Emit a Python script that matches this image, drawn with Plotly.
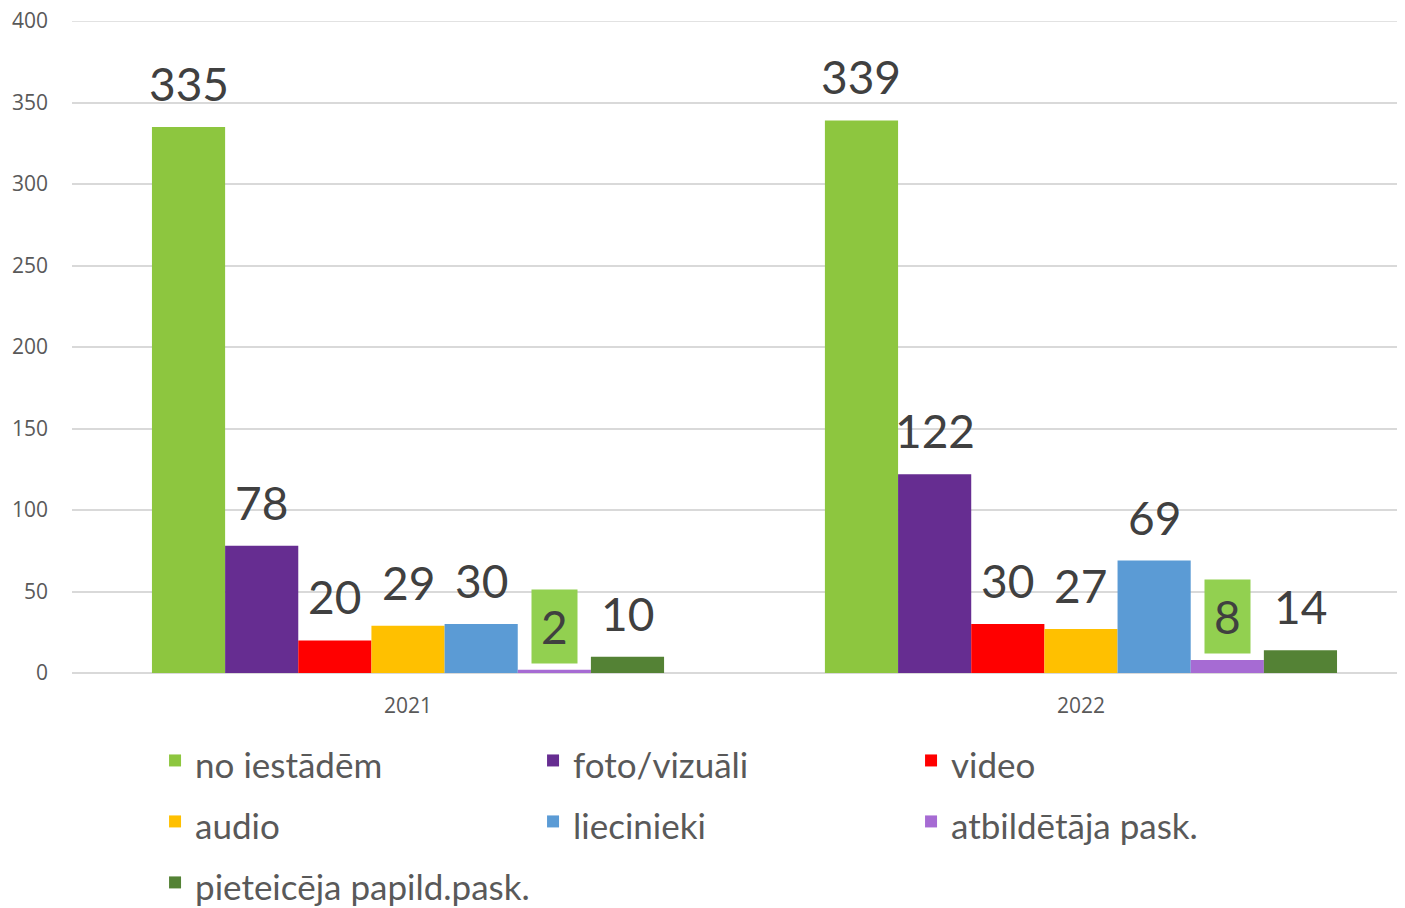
import plotly.graph_objects as go

categories = ["2021", "2022"]
series_names = ["no iestādēm", "foto/vizuāli", "video", "audio", "liecinieki",
                "atbildētāja pask.", "pieteicēja papild.pask."]
values = {
    "no iestādēm": [335, 339],
    "foto/vizuāli": [78, 122],
    "video": [20, 30],
    "audio": [29, 27],
    "liecinieki": [30, 69],
    "atbildētāja pask.": [2, 8],
    "pieteicēja papild.pask.": [10, 14],
}
colors = ["#8DC63F", "#662D91", "#FF0000", "#FFC000", "#5B9BD5", "#A66BD3", "#548235"]
boxed_series = "atbildētāja pask."
box_color = "#92D050"

# page body has an 8px margin: figure is sized to fill the rest of the window
W, H = 1397, 900
ML, MR, MT, MB = 64, 0, 13, 235
BARGAP = 0.239
x_range = [-0.4993, 1.4815]
y_range = [0, 400]

fig = go.Figure()
for name, col in zip(series_names, colors):
    fig.add_trace(go.Bar(
        name='<span style="font-size:35px">' + name + '</span>',
        x=categories, y=values[name],
        marker=dict(color=col, line=dict(width=0)),
    ))

# data labels
plot_w = W - ML - MR
px_per_unit = plot_w / (x_range[1] - x_range[0])
bar_px = px_per_unit * (1 - BARGAP) / len(series_names)
n = len(series_names)
for i, name in enumerate(series_names):
    shift = (i - (n - 1) / 2) * bar_px
    boxed = name == boxed_series
    for j, v in enumerate(values[name]):
        kw = dict(bgcolor=box_color, borderpad=9) if boxed else dict(borderpad=1)
        fig.add_annotation(
            x=j, y=v, xref="x", yref="y", text=str(v), showarrow=False,
            xanchor="center", yanchor="bottom", xshift=shift,
            yshift=6 if boxed else 14,
            font=dict(family="Lato", size=46, color="#404040"),
            **kw,
        )

# top gridline (plotly skips the grid line at the range edge)
fig.add_shape(type="line", xref="paper", yref="y", x0=0, x1=1, y0=y_range[1], y1=y_range[1],
              line=dict(color="#D9D9D9", width=1.5), layer="below")

fig.update_layout(
    width=W, height=H,
    margin=dict(l=ML, r=MR, t=MT, b=MB, autoexpand=False),
    plot_bgcolor="white", paper_bgcolor="white",
    barmode="group", bargap=BARGAP, bargroupgap=0,
    font=dict(family="Open Sans", color="#595959"),
    showlegend=True,
    legend=dict(
        orientation="h", x=0.0623, xanchor="left", y=-0.0797, yanchor="top",
        font=dict(family="Lato", size=44.6, color="#595959"),
        entrywidth=333, entrywidthmode="pixels",
        traceorder="normal",
    ),
    xaxis=dict(
        type="category", range=x_range, showgrid=False, showline=False,
        zeroline=False, ticks="", ticklabelstandoff=18,
        tickfont=dict(family="Open Sans", size=21, color="#595959"),
    ),
    yaxis=dict(
        range=y_range, dtick=50, showgrid=True, gridcolor="#D9D9D9", gridwidth=1.5,
        zeroline=True, zerolinecolor="#D9D9D9", zerolinewidth=1.5,
        showline=False, ticks="", ticklabelstandoff=23, ticklabeloverflow="allow",
        tickfont=dict(family="Open Sans", size=21, color="#595959"),
    ),
)

fig.write_html("out.html")
